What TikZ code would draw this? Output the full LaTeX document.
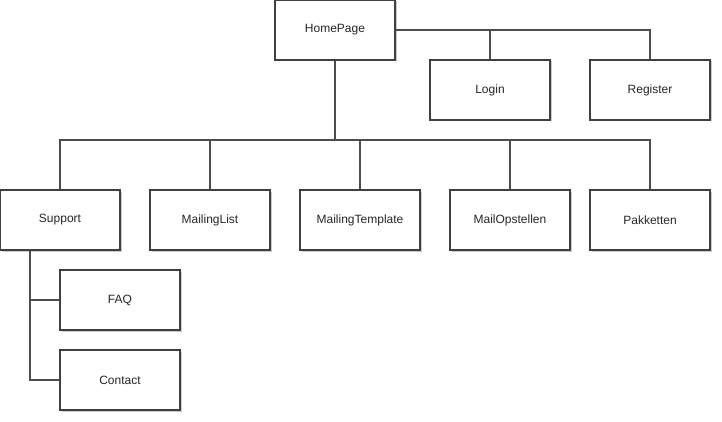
\documentclass[tikz,border=0pt]{standalone}
\usepackage{fontspec}
\setmainfont{Liberation Sans}
\usetikzlibrary{shadows}
\begin{document}
\begin{tikzpicture}[x=1pt,y=-1pt,
  box/.style={draw=black!75, line width=1.1pt, fill=white, minimum width=120pt, minimum height=60pt, inner sep=0pt, font=\fontsize{12}{14}\selectfont, text=black!85,
    drop shadow={shadow xshift=1.5pt, shadow yshift=-1.5pt, opacity=0.4, fill=black!50}},
  conn/.style={draw=black!70, line width=1.1pt}]
\useasboundingbox (0,0) rectangle (722,422);
\node[box] (home) at (335,30) {HomePage};
\node[box] (login) at (490,90) {Login};
\node[box] (reg) at (650,90) {Register};
\node[box] (sup) at (60,220) {Support};
\node[box] (ml) at (210,220) {MailingList};
\node[box] (mt) at (360,220) {MailingTemplate};
\node[box] (mo) at (510,220) {MailOpstellen};
\node[box] (pak) at (650,220) {Pakketten};
\node[box] (faq) at (120,300) {FAQ};
\node[box] (con) at (120,380) {Contact};
\coordinate (r1) at (650,30);
\coordinate (l1) at (490,30);
\coordinate (hb) at (335,140);
\coordinate (hl) at (60,140);
\coordinate (hr) at (650,140);
\coordinate (sv) at (30,380);
\coordinate (sf) at (30,300);
\draw[conn] (home.east) -- (r1) -- (reg.north);
\draw[conn] (l1) -- (login.north);
\draw[conn] (home.south) -- (hb);
\draw[conn] (sup.north) -- (hl) -- (hr) -- (pak.north);
\draw[conn] (ml.north) -- (ml.north |- hl);
\draw[conn] (mt.north) -- (mt.north |- hl);
\draw[conn] (mo.north) -- (mo.north |- hl);
\draw[conn] (sup.south -| sv) -- (sv) -- (con.west);
\draw[conn] (sf) -- (faq.west);
\end{tikzpicture}
\end{document}
